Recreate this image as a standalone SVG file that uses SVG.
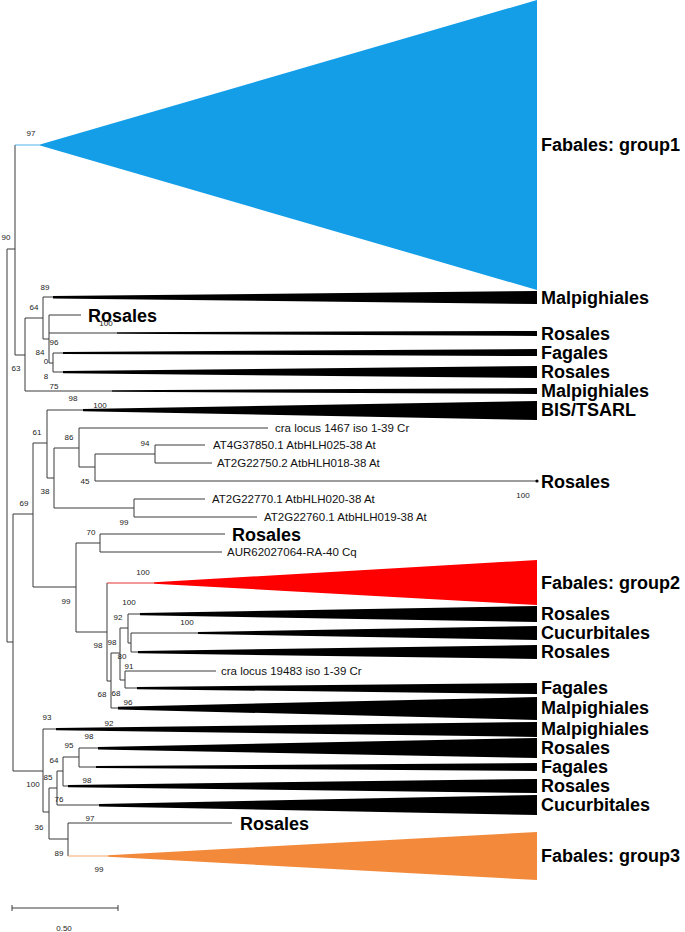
<svg xmlns="http://www.w3.org/2000/svg" width="685" height="932" viewBox="0 0 685 932">
<style>
.br{fill:none;stroke:#3a3a3a;stroke-width:1}
.bs{font-family:"Liberation Sans",Arial,sans-serif;font-size:8px;fill:#222;text-anchor:middle}
.cl{font-family:"Liberation Sans",Arial,sans-serif;font-size:18px;font-weight:bold;fill:#000}
.gn{font-family:"Liberation Sans",Arial,sans-serif;font-size:11.5px;fill:#111}
.tri{fill:#000}
</style>
<rect width="685" height="932" fill="#fff"/>
<g id="connectors" class="br">
<path d="M7,249V642 M7,249H15 M7,642H13"/>
<path d="M15,145V355 M15,355H25 M25,318V391 M25,318H43 M43,297V339 M43,297H53 M43,339H49 M49,315V363 M49,315H81 M49,333H117 M49,363H53 M53,353V372 M53,353H63 M53,372H63 M25,391H112"/>
<path d="M13,514V771 M13,514H33 M33,443V587 M33,443H47 M47,410V478 M47,410H83 M47,478H54 M54,448V508 M54,448H79 M79,428V467 M79,428H268 M79,467H95 M95,454V481 M95,454H155 M155,445V463 M155,445H205 M155,463H212 M95,481H537 M54,508H134 M134,499V517 M134,499H205 M134,517H257"/>
<path d="M33,587H76 M76,543V632 M76,543H100 M100,534V552 M100,534H225 M100,552H222 M76,632H107 M107,583V681 M107,681H111 M111,653V708 M111,653H120 M120,628V680 M120,628H128 M128,614V643 M128,614H140 M128,643H131 M131,633V652 M131,633H198 M131,652H138 M120,680H125 M125,671V688 M125,671H216 M125,688H137 M111,708H118"/>
<path d="M13,771H43 M43,729V812 M43,729H56 M43,812H49 M49,788V839 M49,788H57 M57,771V805 M57,771H63 M63,757V786 M63,757H79 M79,748V767 M79,748H98 M79,767H96 M63,786H68 M57,805H99 M49,839H68 M68,823V856 M68,823H232"/>
<path d="M15,145H40" stroke="#4fb3ee"/>
<path d="M107,583H154" stroke="#e53030"/>
<path d="M68,856H108" stroke="#f5a66a"/>
</g>
<g id="n-fabales1"><polygon points="40,144.5 537,0 537,290 40,145.5" fill="#159ee8"/><text class="cl" x="541" y="151">Fabales: group1</text></g>
<g id="n-malp1"><polygon class="tri" points="53,296 537,291 537,304 53,298.5"/><text class="cl" x="541" y="304">Malpighiales</text></g>
<g id="n-rosales-in1"><text class="cl" x="88" y="322">Rosales</text></g>
<g id="n-rosales1"><polygon class="tri" points="117,332.2 537,331 537,336 117,333.8"/><text class="cl" x="541" y="340">Rosales</text></g>
<g id="n-fagales1"><polygon class="tri" points="63,352 537,349 537,356 63,354"/><text class="cl" x="541" y="359">Fagales</text></g>
<g id="n-rosales2"><polygon class="tri" points="63,371 537,366 537,378 63,373.2"/><text class="cl" x="541" y="378">Rosales</text></g>
<g id="n-malp2"><polygon class="tri" points="112,390.3 537,388 537,394 112,391.7"/><text class="cl" x="541" y="397">Malpighiales</text></g>
<g id="n-bis"><polygon class="tri" points="83,409 537,401 537,420 83,411.2"/><text class="cl" x="541" y="416">BIS/TSARL</text></g>
<g id="n-cra1467"><text class="gn" x="275" y="432">cra locus 1467 iso 1-39 Cr</text></g>
<g id="n-at4g37850"><text class="gn" x="213" y="449">AT4G37850.1 AtbHLH025-38 At</text></g>
<g id="n-at2g22750"><text class="gn" x="217" y="467">AT2G22750.2 AtbHLH018-38 At</text></g>
<g id="n-rosales3"><circle cx="537" cy="481" r="1.6" fill="#000"/><text class="cl" x="541" y="488">Rosales</text></g>
<g id="n-at2g22770"><text class="gn" x="212" y="503">AT2G22770.1 AtbHLH020-38 At</text></g>
<g id="n-at2g22760"><text class="gn" x="264" y="521">AT2G22760.1 AtbHLH019-38 At</text></g>
<g id="n-rosales-in2"><text class="cl" x="232" y="541">Rosales</text></g>
<g id="n-aur"><text class="gn" x="227" y="556">AUR62027064-RA-40 Cq</text></g>
<g id="n-fabales2"><polygon points="154,582.3 537,560 537,605 154,583.7" fill="#fe0000"/><text class="cl" x="541" y="589">Fabales: group2</text></g>
<g id="n-rosales4"><polygon class="tri" points="140,613 537,606 537,622 140,615.2"/><text class="cl" x="541" y="620">Rosales</text></g>
<g id="n-cucur1"><polygon class="tri" points="198,632 537,626 537,640 198,634"/><text class="cl" x="541" y="639">Cucurbitales</text></g>
<g id="n-rosales5"><polygon class="tri" points="138,651 537,645 537,659 138,653.2"/><text class="cl" x="541" y="658">Rosales</text></g>
<g id="n-cra19483"><text class="gn" x="221" y="675">cra locus 19483 iso 1-39 Cr</text></g>
<g id="n-fagales2"><polygon class="tri" points="137,687 537,683 537,694 137,689.2"/><text class="cl" x="541" y="694">Fagales</text></g>
<g id="n-malp3"><polygon class="tri" points="118,706.8 537,697 537,720 118,709.4"/><text class="cl" x="541" y="714">Malpighiales</text></g>
<g id="n-malp4"><polygon class="tri" points="56,728 537,722 537,737 56,730.2"/><text class="cl" x="541" y="735">Malpighiales</text></g>
<g id="n-rosales6"><polygon class="tri" points="98,747 537,738 537,758 98,749.4"/><text class="cl" x="541" y="754">Rosales</text></g>
<g id="n-fagales3"><polygon class="tri" points="96,766 537,763 537,771 96,768"/><text class="cl" x="541" y="773">Fagales</text></g>
<g id="n-rosales7"><polygon class="tri" points="68,785 537,779 537,793 68,787.2"/><text class="cl" x="541" y="792">Rosales</text></g>
<g id="n-cucur2"><polygon class="tri" points="99,804 537,795 537,815 99,806.4"/><text class="cl" x="541" y="811">Cucurbitales</text></g>
<g id="n-rosales-in3"><text class="cl" x="240" y="830">Rosales</text></g>
<g id="n-fabales3"><polygon points="108,855.3 537,832 537,880 108,856.7" fill="#f2893b"/><text class="cl" x="541" y="862">Fabales: group3</text></g>
<g id="bootstrap">
<text class="bs" x="31" y="136">97</text>
<text class="bs" x="6" y="240">90</text>
<text class="bs" x="45" y="290">89</text>
<text class="bs" x="34" y="310">64</text>
<text class="bs" x="106" y="326">100</text>
<text class="bs" x="54" y="345">96</text>
<text class="bs" x="40" y="355">84</text>
<text class="bs" x="46" y="364">0</text>
<text class="bs" x="46" y="379">8</text>
<text class="bs" x="16" y="371">63</text>
<text class="bs" x="54" y="389">75</text>
<text class="bs" x="73" y="401">98</text>
<text class="bs" x="100" y="408">100</text>
<text class="bs" x="37" y="435">61</text>
<text class="bs" x="69" y="440">86</text>
<text class="bs" x="145" y="446">94</text>
<text class="bs" x="85" y="484">45</text>
<text class="bs" x="45" y="494">38</text>
<text class="bs" x="24" y="506">69</text>
<text class="bs" x="124" y="525">99</text>
<text class="bs" x="91" y="535">70</text>
<text class="bs" x="523" y="498">100</text>
<text class="bs" x="143" y="575">100</text>
<text class="bs" x="66" y="604">99</text>
<text class="bs" x="129" y="605">100</text>
<text class="bs" x="118" y="620">92</text>
<text class="bs" x="187" y="625">100</text>
<text class="bs" x="98" y="648">98</text>
<text class="bs" x="112" y="645">98</text>
<text class="bs" x="122" y="659">80</text>
<text class="bs" x="129" y="669">91</text>
<text class="bs" x="102" y="697">68</text>
<text class="bs" x="116" y="696">68</text>
<text class="bs" x="128" y="705">96</text>
<text class="bs" x="47" y="720">93</text>
<text class="bs" x="109" y="726">92</text>
<text class="bs" x="89" y="739">98</text>
<text class="bs" x="69" y="748">95</text>
<text class="bs" x="54" y="763">64</text>
<text class="bs" x="48" y="780">85</text>
<text class="bs" x="33" y="787">100</text>
<text class="bs" x="87" y="783">98</text>
<text class="bs" x="59" y="802">76</text>
<text class="bs" x="90" y="821">97</text>
<text class="bs" x="39" y="830">36</text>
<text class="bs" x="59" y="856">89</text>
<text class="bs" x="99" y="872">99</text>
</g>
<g id="scalebar">
<path d="M12,908H118 M12,905V911 M118,905V911" class="br"/>
<text class="bs" x="64" y="931">0.50</text>
</g>
</svg>
